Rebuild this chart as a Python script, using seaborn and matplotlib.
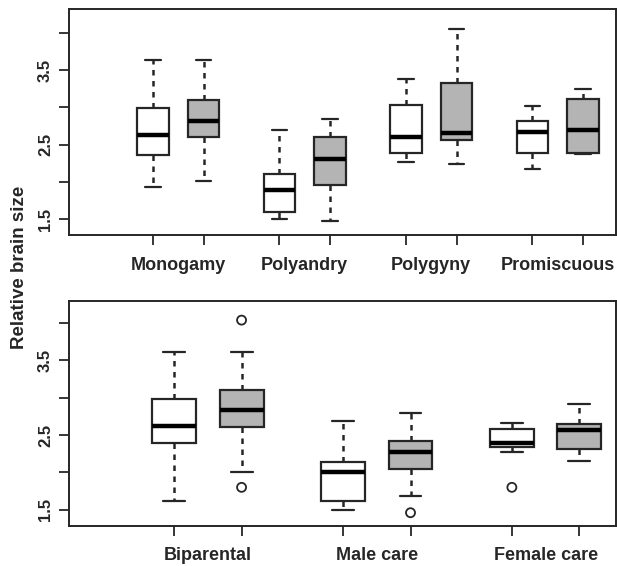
import numpy as np
import pandas as pd
import matplotlib
matplotlib.use("Agg")
import matplotlib.pyplot as plt
import seaborn as sns

sns.set_style("white")
plt.rcParams["font.family"] = ["Liberation Sans", "DejaVu Sans"]
plt.rcParams["font.weight"] = "bold"

# ---------------- data ----------------
sets = ["open", "shaded"]

mating = ["Monogamy", "Polyandry", "Polygyny", "Promiscuous"]
# five-number summaries, order: (cat0 open, cat0 shaded, cat1 open, ...)
mating_whislo = [1.93, 2.01, 1.50, 1.47, 2.27, 2.24, 2.17, 2.37]
mating_q1     = [2.36, 2.60, 1.59, 1.95, 2.38, 2.56, 2.39, 2.38]
mating_med    = [2.63, 2.82, 1.885, 2.30, 2.60, 2.65, 2.67, 2.70]
mating_q3     = [2.99, 3.10, 2.11, 2.60, 3.03, 3.33, 2.81, 3.11]
mating_whishi = [3.64, 3.63, 2.69, 2.84, 3.375, 4.05, 3.02, 3.25]
mating_out_box = []
mating_out_val = []

care = ["Biparental", "Male care", "Female care"]
care_whislo = [1.62, 2.00, 1.50, 1.68, 2.27, 2.15]
care_q1     = [2.39, 2.61, 1.62, 2.05, 2.34, 2.31]
care_med    = [2.62, 2.83, 2.00, 2.27, 2.39, 2.57]
care_q3     = [2.99, 3.10, 2.14, 2.42, 2.58, 2.65]
care_whishi = [3.61, 3.61, 2.69, 2.79, 2.665, 2.92]
care_out_box = [1, 1, 3, 4]
care_out_val = [1.80, 4.04, 1.46, 1.80]

yticks = [1.5, 2.0, 2.5, 3.0, 3.5, 4.0]
ytick_labels = ["1.5", "", "2.5", "", "3.5", ""]

# ---------------- helpers ----------------
GAP = 2.5  # spacing between category pairs (in box units)


def build(cats, lo, q1, med, q3, hi):
    rows = []
    for i in range(len(lo)):
        g, s = divmod(i, 2)
        pos = g * GAP + s
        for v in (lo[i], q1[i], med[i], q3[i], hi[i]):
            rows.append({"pos": pos, "set": sets[s], "value": v})
    return pd.DataFrame(rows)


def box_pos(i):
    g, s = divmod(i, 2)
    return g * GAP + s


EDGE = "#262626"


def panel(ax, cats, lo, q1, med, q3, hi, out_box, out_val, width, xlim, ylim):
    df = build(cats, lo, q1, med, q3, hi)
    sns.boxplot(
        data=df, x="pos", y="value", hue="set", hue_order=sets,
        palette={"open": "white", "shaded": "#b4b4b4"},
        native_scale=True, dodge=False, width=width, whis=np.inf,
        linecolor=EDGE, linewidth=1.6, legend=False, ax=ax,
        whiskerprops={"linestyle": (0, (2.2, 2.2)), "linewidth": 1.8},
        capprops={"linewidth": 1.6},
        medianprops={"color": "black", "linewidth": 3.2},
    )
    if out_box:
        odf = pd.DataFrame({"pos": [box_pos(b) for b in out_box], "value": out_val})
        sns.scatterplot(data=odf, x="pos", y="value", marker="o", s=42,
                        facecolor="none", edgecolor=EDGE, linewidth=1.3,
                        ax=ax, legend=False, zorder=5)
    n = len(lo)
    positions = [box_pos(i) for i in range(n)]
    ax.set_xticks(positions)
    ax.set_xticklabels([""] * n)
    centres = [g * GAP + 0.5 for g in range(len(cats))]
    ax.set_xticks(centres, minor=True)
    ax.set_xticklabels(cats, minor=True, fontsize=13, fontweight="bold")
    ax.tick_params(axis="x", which="major", length=7.5, width=1.3,
                   color=EDGE, direction="out", bottom=True)
    ax.tick_params(axis="x", which="minor", length=0, pad=15.5, bottom=True)
    ax.set_yticks(yticks)
    ax.set_yticklabels(ytick_labels, fontsize=12, fontweight="bold",
                       rotation=90, va="center")
    ax.tick_params(axis="y", length=7.5, width=1.3, color=EDGE,
                   direction="out", left=True, pad=4)
    ax.set_xlim(*xlim)
    ax.set_ylim(*ylim)
    ax.set_xlabel("")
    ax.set_ylabel("")
    for sp in ax.spines.values():
        sp.set_visible(True)
        sp.set_color(EDGE)
        sp.set_linewidth(1.4)


fig = plt.figure(figsize=(6.17, 5.66), dpi=100)
ax1 = fig.add_axes([0.1118, 0.5848, 0.8865, 0.3993])
ax2 = fig.add_axes([0.1118, 0.0712, 0.8865, 0.3975])

panel(ax1, mating, mating_whislo, mating_q1, mating_med, mating_q3, mating_whishi,
      mating_out_box, mating_out_val, 0.62, (-1.66, 9.15), (1.285, 4.32))
panel(ax2, care, care_whislo, care_q1, care_med, care_q3, care_whishi,
      care_out_box, care_out_val, 0.65, (-1.554, 6.54), (1.286, 4.30))

fig.text(0.032, 0.527, "Relative brain size", rotation=90, ha="center",
         va="center", fontsize=13.5, fontweight="bold")

fig.savefig("out.png", dpi=100)
